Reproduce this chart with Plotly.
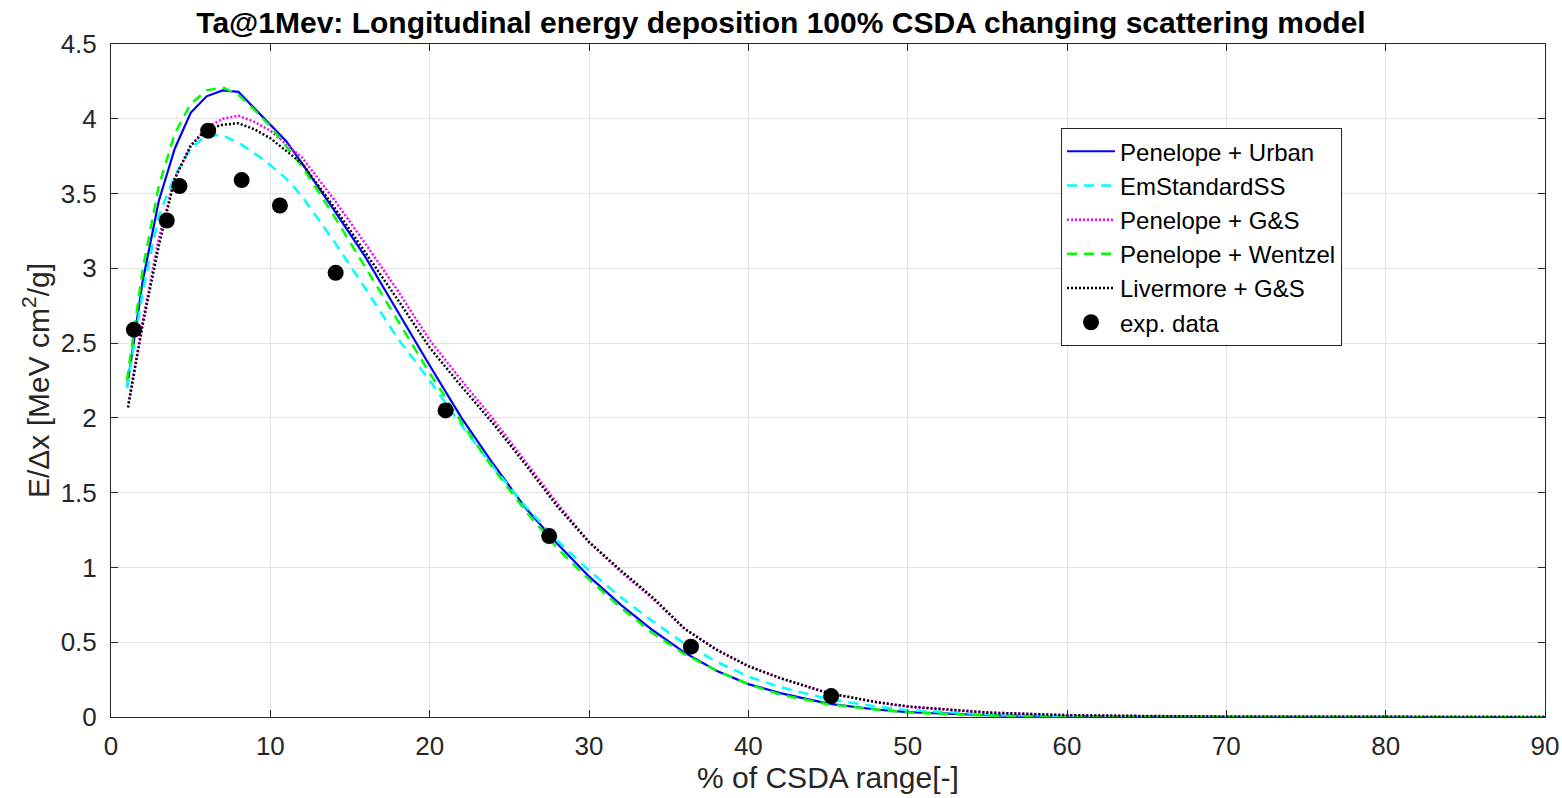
import plotly.graph_objects as go

# Penelope + Urban
x_urban = [1.0, 2, 3, 4, 5, 6, 7, 8, 9, 10, 11, 12, 14, 16, 18, 20, 22, 24, 26, 28, 30, 32, 34, 36, 38, 40, 42, 45, 48, 50, 55, 60, 70, 80, 90]
y_urban = [2.2, 2.92, 3.45, 3.8, 4.04, 4.15, 4.19, 4.18, 4.07, 3.96, 3.85, 3.70, 3.39, 3.07, 2.71, 2.35, 2.0, 1.69, 1.40, 1.16, 0.94, 0.75, 0.58, 0.43, 0.31, 0.22, 0.16, 0.09, 0.05, 0.033, 0.012, 0.004, 0.001, 0.0, 0.0]

# EmStandardSS
x_emss = [1.0, 2, 3, 4, 5, 6, 7, 8, 9, 10, 11, 12, 14, 16, 18, 20, 22, 24, 26, 28, 30, 32, 34, 36, 38, 40, 42, 45, 48, 50, 55, 60, 70, 80, 90]
y_emss = [2.2, 2.85, 3.35, 3.62, 3.8, 3.89, 3.89, 3.84, 3.77, 3.69, 3.60, 3.48, 3.18, 2.86, 2.53, 2.25, 1.95, 1.67, 1.41, 1.18, 0.98, 0.80, 0.64, 0.49, 0.37, 0.27, 0.20, 0.12, 0.07, 0.046, 0.018, 0.006, 0.001, 0.0, 0.0]

# Penelope + G&S
x_pen_gs = [1.1, 2, 3, 4, 5, 6, 7, 8, 9, 10, 12, 14, 16, 18, 20, 22, 24, 26, 28, 30, 32, 34, 36, 38, 40, 42, 45, 48, 50, 55, 60, 65, 70, 80, 90]
y_pen_gs = [2.1, 2.65, 3.2, 3.6, 3.82, 3.94, 4.0, 4.02, 3.98, 3.92, 3.74, 3.46, 3.16, 2.85, 2.52, 2.25, 1.99, 1.71, 1.43, 1.17, 0.97, 0.79, 0.59, 0.45, 0.34, 0.26, 0.16, 0.10, 0.07, 0.03, 0.012, 0.005, 0.002, 0.001, 0.0]

# Penelope + Wentzel
x_wentzel = [1.0, 2, 3, 4, 5, 6, 7, 8, 9, 10, 12, 14, 16, 18, 20, 22, 24, 26, 28, 30, 32, 34, 36, 38, 40, 42, 45, 48, 50, 55, 60, 70, 80, 90]
y_wentzel = [2.25, 3.0, 3.55, 3.9, 4.1, 4.19, 4.21, 4.16, 4.06, 3.95, 3.68, 3.35, 3.0, 2.65, 2.30, 1.97, 1.66, 1.38, 1.13, 0.92, 0.73, 0.56, 0.42, 0.31, 0.22, 0.15, 0.085, 0.05, 0.03, 0.01, 0.003, 0.001, 0.0, 0.0]

# Livermore + G&S
x_liv_gs = [1.07, 1.7, 2, 3, 4, 5, 6, 7, 8, 9, 10, 12, 14, 16, 18, 20, 22, 24, 26, 28, 30, 32, 34, 36, 38, 40, 42, 45, 48, 50, 55, 60, 65, 70, 80, 90]
y_liv_gs = [2.07, 2.46, 2.63, 3.15, 3.6, 3.82, 3.93, 3.96, 3.97, 3.93, 3.87, 3.70, 3.41, 3.10, 2.79, 2.47, 2.21, 1.96, 1.69, 1.41, 1.17, 0.98, 0.80, 0.59, 0.45, 0.34, 0.26, 0.16, 0.10, 0.07, 0.03, 0.012, 0.005, 0.002, 0.001, 0.0]

# Experimental data
x_exp = [1.44, 3.5, 4.3, 6.1, 8.2, 10.6, 14.1, 21.0, 27.5, 36.4, 45.2]
y_exp = [2.59, 3.32, 3.55, 3.92, 3.59, 3.42, 2.97, 2.05, 1.21, 0.47, 0.14]

x_ticks = [0, 10, 20, 30, 40, 50, 60, 70, 80, 90]
y_ticks = [0, 0.5, 1, 1.5, 2, 2.5, 3, 3.5, 4, 4.5]
y_tick_labels = ["0", "0.5", "1", "1.5", "2", "2.5", "3", "3.5", "4", "4.5"]

FONT = "Liberation Sans, Arial, sans-serif"
AX = "#262626"

fig = go.Figure()
fig.add_trace(go.Scatter(x=x_urban, y=y_urban, mode="lines", name="Penelope + Urban",
                         line=dict(color="#0000ff", width=2.2)))
fig.add_trace(go.Scatter(x=x_emss, y=y_emss, mode="lines", name="EmStandardSS",
                         line=dict(color="#00ffff", width=2.5, dash="10px,7px")))
fig.add_trace(go.Scatter(x=x_pen_gs, y=y_pen_gs, mode="lines", name="Penelope + G&S",
                         line=dict(color="#ff00ff", width=2.5, dash="2px,2px")))
fig.add_trace(go.Scatter(x=x_wentzel, y=y_wentzel, mode="lines", name="Penelope + Wentzel",
                         line=dict(color="#00ff00", width=2.5, dash="10px,7px")))
fig.add_trace(go.Scatter(x=x_liv_gs, y=y_liv_gs, mode="lines", name="Livermore + G&S",
                         line=dict(color="#000000", width=2.5, dash="2px,2px")))
fig.add_trace(go.Scatter(x=x_exp, y=y_exp, mode="markers", name="exp. data",
                         marker=dict(color="#000000", size=16)))

fig.update_layout(
    width=1562, height=798,
    margin=dict(l=111, r=17, t=44, b=81),
    paper_bgcolor="white", plot_bgcolor="white",
    font=dict(family=FONT, color=AX, size=24),
    title=dict(text="<b>Ta@1Mev: Longitudinal energy deposition 100% CSDA changing scattering model</b>",
               x=0.5, xanchor="center", y=0.985, yanchor="top",
               font=dict(family=FONT, size=30, color="#000000")),
    legend=dict(x=0.6625, y=0.875, xanchor="left", yanchor="top",
                bgcolor="white", bordercolor=AX, borderwidth=1,
                font=dict(family=FONT, size=24, color="#000000"),
                itemwidth=48, tracegroupgap=0),
    showlegend=True,
)
fig.update_xaxes(range=[0, 90], tickvals=x_ticks, ticktext=[str(t) for t in x_ticks],
                 showgrid=True, gridcolor="#e3e3e3", gridwidth=1,
                 showline=True, linecolor=AX, linewidth=1, mirror="ticks",
                 ticks="inside", ticklen=7, tickcolor=AX, zeroline=False,
                 tickfont=dict(size=26, color=AX), ticklabelstandoff=6, automargin=False,
                 title=dict(text="% of CSDA range[-]", font=dict(size=30, color=AX), standoff=6))
fig.update_yaxes(range=[0, 4.5], tickvals=y_ticks, ticktext=y_tick_labels,
                 showgrid=True, gridcolor="#e3e3e3", gridwidth=1,
                 showline=True, linecolor=AX, linewidth=1, mirror="ticks",
                 ticks="inside", ticklen=7, tickcolor=AX, zeroline=False,
                 tickfont=dict(size=26, color=AX), ticklabelstandoff=8, automargin=False,
                 title=dict(text="E/Δx [MeV cm<sup>2</sup>/g]", font=dict(size=30, color=AX), standoff=2))

fig.write_html("out.html")
